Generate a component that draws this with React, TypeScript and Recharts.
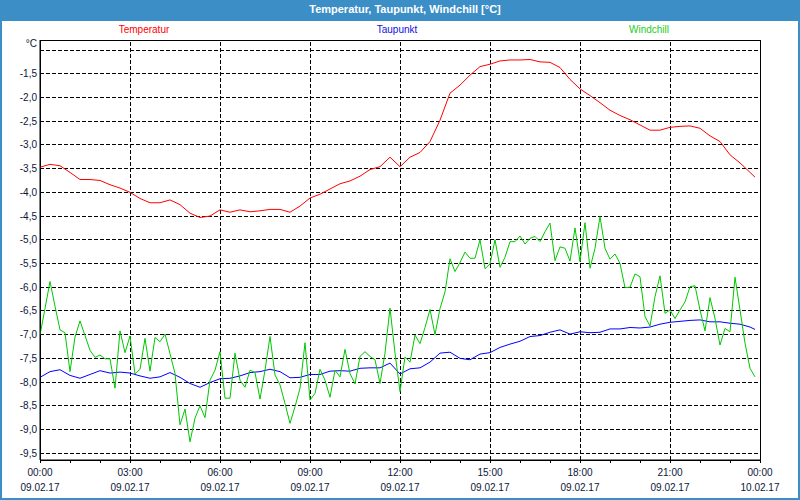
import React from 'react';
import { LineChart, Line, XAxis, YAxis, CartesianGrid, ReferenceLine, ReferenceArea } from 'recharts';

// time in minutes since 09.02.17 00:00
const windTimes = Array.from({ length: 144 }, (_, i) => i * 10);
const tdTimes = [...Array.from({ length: 72 }, (_, i) => i * 20), 1430];

const temperatur = [
  -3.47, -3.41, -3.44, -3.58, -3.73, -3.73, -3.75, -3.84, -3.91, -4.0,
  -4.13, -4.22, -4.22, -4.16, -4.26, -4.44, -4.53, -4.5, -4.37, -4.42,
  -4.37, -4.41, -4.39, -4.36, -4.36, -4.42, -4.29, -4.12, -4.04, -3.93,
  -3.82, -3.76, -3.66, -3.52, -3.46, -3.26, -3.46, -3.26, -3.16, -2.93,
  -2.48, -1.91, -1.74, -1.53, -1.35, -1.3, -1.23, -1.21, -1.21, -1.2,
  -1.25, -1.26, -1.37, -1.62, -1.82, -1.96, -2.11, -2.27, -2.38, -2.47,
  -2.58, -2.69, -2.69, -2.63, -2.61, -2.6, -2.65, -2.81, -2.93, -3.21,
  -3.38, -3.58, -3.68,
];

const taupunkt = [
  -7.9, -7.78, -7.74, -7.86, -7.92, -7.84, -7.76, -7.81, -7.79, -7.81,
  -7.87, -7.92, -7.89, -7.8, -7.9, -8.03, -8.11, -8.01, -7.93, -7.92,
  -7.87, -7.8, -7.78, -7.73, -7.78, -7.91, -7.9, -7.84, -7.84, -7.77,
  -7.76, -7.77, -7.71, -7.7, -7.7, -7.6, -7.83, -7.72, -7.7, -7.58,
  -7.39, -7.37, -7.5, -7.53, -7.41, -7.38, -7.27, -7.2, -7.14, -7.04,
  -7.02, -6.95, -6.9, -6.99, -6.94, -6.96, -6.95, -6.88, -6.88, -6.85,
  -6.86, -6.84, -6.78, -6.74, -6.72, -6.7, -6.69, -6.73, -6.73, -6.76,
  -6.78, -6.84, -6.89,
];

const windchill = [
  -7.01, -6.45, -5.88, -6.4, -6.9, -6.96, -7.78, -7.05, -6.71, -7.02,
  -7.33, -7.48, -7.43, -7.51, -7.51, -8.13, -6.92, -7.38, -7.03, -7.83,
  -7.73, -7.08, -7.77, -7.06, -7.15, -6.99, -7.4, -7.82, -8.9, -8.57,
  -9.26, -8.76, -8.5, -8.75, -7.96, -7.75, -7.36, -8.34, -8.34, -7.39,
  -7.96, -8.11, -7.75, -7.8, -8.36, -7.75, -7.04, -7.85, -8.06, -8.45,
  -8.87, -8.52, -8.13, -7.17, -8.38, -8.24, -7.73, -7.96, -8.32, -7.75,
  -7.89, -7.31, -7.82, -8.04, -7.46, -7.36, -7.46, -7.53, -8.03, -7.39,
  -6.44, -7.39, -8.2, -7.47, -7.58, -7.01, -7.19, -6.85, -6.47, -7.0,
  -6.45, -6.1, -5.4, -5.67, -5.48, -5.26, -5.39, -5.39, -5.0, -5.61,
  -5.51, -5.0, -5.58, -5.37, -5.04, -5.04, -4.92, -5.09, -4.97, -4.93,
  -5.04, -4.83, -4.65, -5.44, -5.15, -5.18, -5.45, -4.75, -5.46, -4.64,
  -5.6, -5.18, -4.51, -5.18, -5.41, -5.3, -5.5, -6.01, -6.0, -5.72,
  -5.78, -6.62, -6.82, -6.2, -5.76, -6.55, -6.48, -6.66, -6.48, -6.31,
  -5.99, -5.97, -6.48, -6.92, -6.22, -6.66, -7.22, -6.87, -6.94, -5.79,
  -6.48, -7.18, -7.71, -7.89,
];

const hourTicks = Array.from({ length: 25 }, (_, i) => i * 60);
const labelTicks = [0, 180, 360, 540, 720, 900, 1080, 1260, 1440];
const timeLabels = ['00:00', '03:00', '06:00', '09:00', '12:00', '15:00', '18:00', '21:00', '00:00'];
const dateLabels = ['09.02.17', '09.02.17', '09.02.17', '09.02.17', '09.02.17', '09.02.17', '09.02.17', '09.02.17', '10.02.17'];
const gridTimes = [180, 360, 540, 720, 900, 1080, 1260];
const yTicks = [-9.5, -9.0, -8.5, -8.0, -7.5, -7.0, -6.5, -6.0, -5.5, -5.0, -4.5, -4.0, -3.5, -3.0, -2.5, -2.0, -1.5, -1.0];
const yMin = -9.643;
const yMax = -0.789;

const tempData = tdTimes.map((t, i) => ({ t, v: temperatur[i] }));
const dewData = tdTimes.map((t, i) => ({ t, v: taupunkt[i] }));
const windData = windTimes.map((t, i) => ({ t, v: windchill[i] }));

const FONT = "'Liberation Sans', Arial, sans-serif";
const BLUE = '#3c8ec6';
const TXT = '#0b1638';
const DASH = '4 2';

const XTick = (props: any) => {
  const { x, y, payload } = props;
  const idx = labelTicks.indexOf(payload.value);
  if (idx < 0) return <g />;
  return (
    <g>
      <text x={x} y={y + 11} textAnchor="middle" fontSize={10} fontFamily={FONT} fill={TXT}>
        {timeLabels[idx]}
      </text>
      <text x={x} y={y + 26} textAnchor="middle" fontSize={10} fontFamily={FONT} fill={TXT}>
        {dateLabels[idx]}
      </text>
    </g>
  );
};

export default function App() {
  return (
    <div style={{ position: 'absolute', left: 0, top: 0, width: 800, height: 500, background: '#fff', fontFamily: FONT }}>
      <div style={{ position: 'absolute', left: 0, top: 0 }}>
        <LineChart width={800} height={500} margin={{ top: 40, right: 40, bottom: 0, left: 0 }}>
          <CartesianGrid vertical={false} stroke="#000" strokeDasharray={DASH} shapeRendering="crispEdges" />
          {gridTimes.map((g) => (
            <ReferenceLine key={g} x={g} stroke="#000" strokeDasharray={DASH} shapeRendering="crispEdges" />
          ))}
          <XAxis
            dataKey="t"
            type="number"
            domain={[0, 1440]}
            ticks={hourTicks}
            interval={0}
            height={40}
            tickSize={3}
            tickMargin={2}
            axisLine={{ stroke: '#000' }}
            tickLine={{ stroke: '#000', shapeRendering: 'crispEdges' }}
            tick={<XTick />}
            allowDataOverflow
          />
          <YAxis
            type="number"
            domain={[yMin, yMax]}
            ticks={yTicks}
            interval={0}
            width={40}
            tickSize={0}
            tickMargin={3}
            tickLine={false}
            axisLine={{ stroke: '#000' }}
            allowDataOverflow
            tick={{ fontSize: 10, fontFamily: FONT, fill: TXT }}
            tickFormatter={(v: number) => (v === -1 ? '' : v.toFixed(1).replace('.', ','))}
          />
          <ReferenceArea x1={0} x2={1440} y1={yMin} y2={yMax} fill="none" stroke="#000" shapeRendering="crispEdges" />
          <Line data={tempData} dataKey="v" type="linear" stroke="#ff0000" strokeWidth={1} dot={false} isAnimationActive={false} />
          <Line data={dewData} dataKey="v" type="linear" stroke="#0000ff" strokeWidth={1} dot={false} isAnimationActive={false} />
          <Line data={windData} dataKey="v" type="linear" stroke="#00c800" strokeWidth={1} dot={false} isAnimationActive={false} />
        </LineChart>
      </div>
      <div style={{ position: 'absolute', left: 0, top: 0, width: 800, height: 21, background: BLUE, color: '#fff', fontWeight: 'bold', fontSize: 11, lineHeight: '19px', textAlign: 'center' }}>
        <span style={{ position: 'relative', left: 5 }}>Temperatur, Taupunkt, Windchill [°C]</span>
      </div>
      <div style={{ position: 'absolute', left: 0, top: 0, width: 2, height: 500, background: BLUE }} />
      <div style={{ position: 'absolute', left: 798, top: 0, width: 2, height: 500, background: BLUE }} />
      <div style={{ position: 'absolute', left: 0, top: 498, width: 800, height: 2, background: BLUE }} />
      <div style={{ position: 'absolute', left: 84, top: 24, width: 120, textAlign: 'center', fontSize: 10, color: '#ff0000' }}>Temperatur</div>
      <div style={{ position: 'absolute', left: 337, top: 24, width: 120, textAlign: 'center', fontSize: 10, color: '#1010e0' }}>Taupunkt</div>
      <div style={{ position: 'absolute', left: 589, top: 24, width: 120, textAlign: 'center', fontSize: 10, color: '#22cc22' }}>Windchill</div>
      <div style={{ position: 'absolute', left: 0, top: 38, width: 37, textAlign: 'right', fontSize: 10, color: TXT }}>°C</div>
    </div>
  );
}
